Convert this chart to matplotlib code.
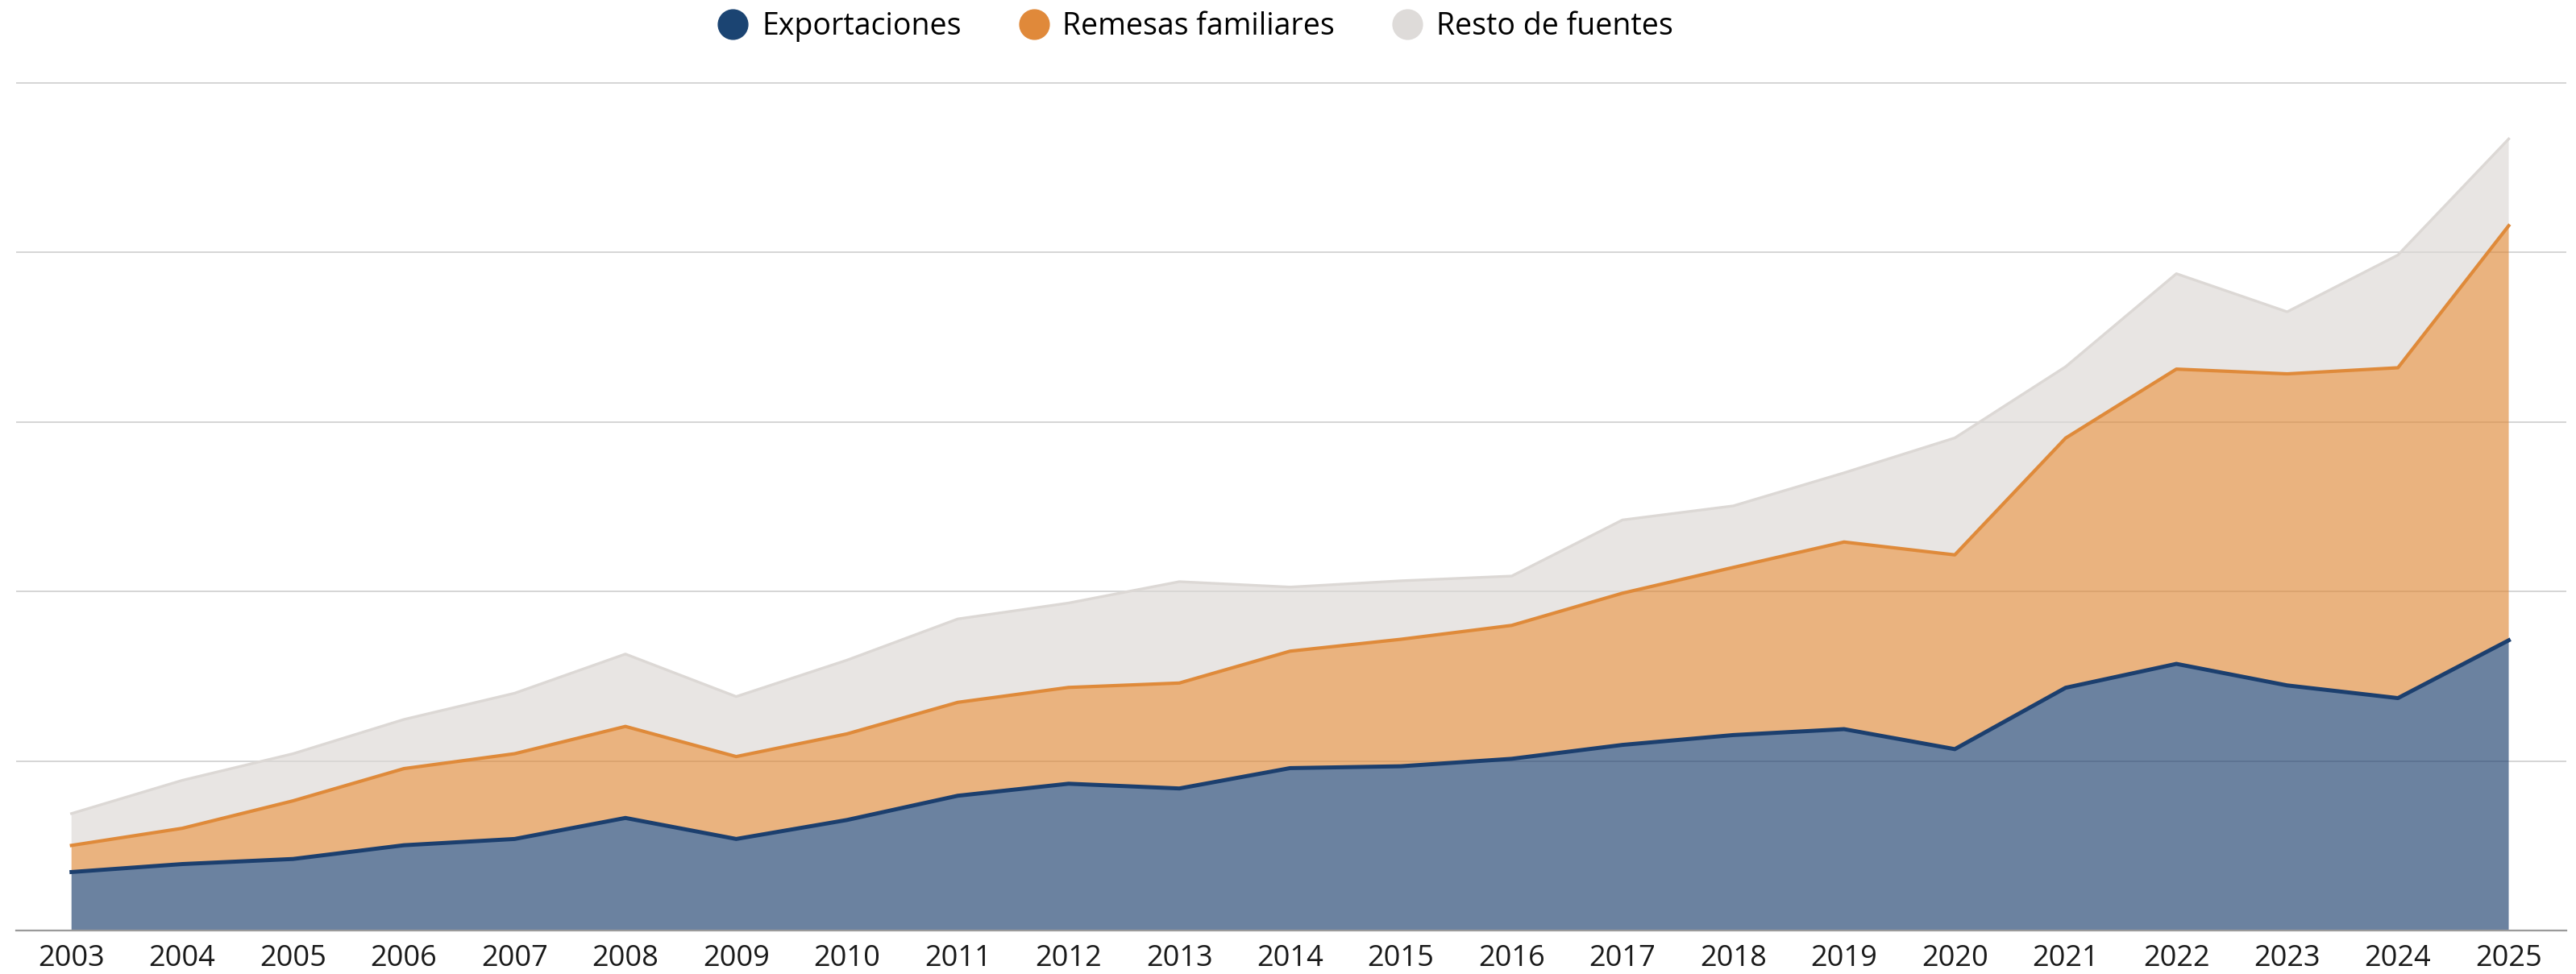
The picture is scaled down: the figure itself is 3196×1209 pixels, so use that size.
import numpy as np
import matplotlib
matplotlib.use("Agg")
import matplotlib.pyplot as plt
from matplotlib.lines import Line2D

plt.rcParams['font.family'] = ['Open Sans', 'DejaVu Sans']

# Data (millones de USD)
years = np.arange(2003, 2026)
exportaciones = [3450, 3920, 4220, 5030, 5400, 6640, 5400, 6520, 7950, 8660, 8380, 9580,
                 9690, 10130, 10950, 11530, 11880, 10700, 14320, 15730, 14460, 13710, 17120]
remesas = [1570, 2110, 3430, 4520, 5030, 5400, 4860, 5080, 5510, 5680, 6220, 6900,
           7490, 7870, 8950, 9890, 11040, 11460, 14730, 17390, 18380, 19490, 24460]
resto = [1880, 2830, 2780, 2900, 3570, 4270, 3540, 4350, 4920, 4980, 5980, 3780,
         3450, 2910, 4320, 3630, 4080, 6900, 4210, 5630, 3660, 6650, 5120]
series_names = ["Exportaciones", "Remesas familiares", "Resto de fuentes"]
line_colors = ["#1c3f6e", "#df8a3a", "#dcd8d5"]
dot_colors = ["#1b4472", "#e0893a", "#dedbd9"]
grid_values = [10000, 20000, 30000, 40000, 50000]

fig = plt.figure(figsize=(31.96, 12.09), dpi=100)
ax = fig.add_axes([20 / 3196, 1 - 1155 / 1209, (3184 - 20) / 3196, (1155 - 100) / 1209])

# stacked areas
ax.stackplot(years, exportaciones, remesas, resto, colors=line_colors, alpha=0.65,
             linewidth=0, zorder=2)
tops = np.cumsum([exportaciones, remesas, resto], axis=0)
widths = [3.6, 3.0, 2.4]
for i in [2, 1, 0]:
    ax.plot(years, tops[i], color=line_colors[i], lw=widths[i], zorder=3,
            solid_joinstyle='round')

ax.set_xlim(2002.5, 2025.52)
ax.set_ylim(0, 50000 * (1155 - 100) / (1155 - 103))
ax.set_yticks(grid_values)
ax.set_yticklabels([])
ax.tick_params(axis='y', length=0)
ax.grid(axis='y', color='#d2d2d2', lw=1.3, zorder=0)
ax.set_axisbelow(True)

ax.set_xticks(years)
ax.set_xticklabels([str(y) for y in years], fontsize=26, color='#1a1a1a')
ax.tick_params(axis='x', length=0, pad=12)

for s in ['top', 'right', 'left']:
    ax.spines[s].set_visible(False)
ax.spines['bottom'].set_color('#9a9a9a')
ax.spines['bottom'].set_linewidth(1.6)
ax.spines['bottom'].set_zorder(4)

handles = [Line2D([], [], marker='o', linestyle='none', markersize=26.5,
                  markerfacecolor=c, markeredgecolor=c) for c in dot_colors]
fig.legend(handles, series_names, loc='center', bbox_to_anchor=(0.464, 1 - 33 / 1209),
           ncol=3, frameon=False, fontsize=27, handlelength=1.0, handletextpad=0.45,
           columnspacing=1.9, borderpad=0, borderaxespad=0)

fig.savefig("out.png", dpi=100, facecolor='white')
